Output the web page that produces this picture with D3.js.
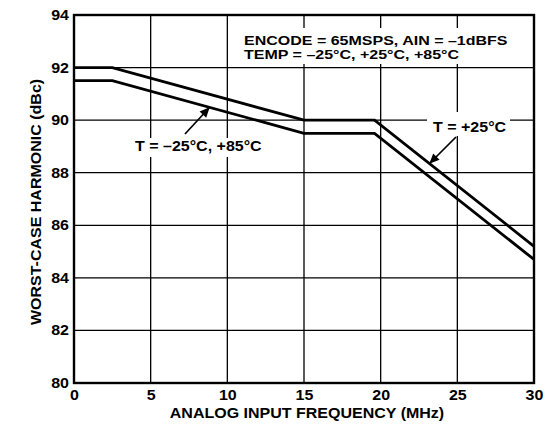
<!DOCTYPE html>
<html><head><meta charset="utf-8">
<script src="https://cdn.jsdelivr.net/npm/d3@7"></script>
<style>body{margin:0;background:#fff}svg{display:block}text{font-family:"Liberation Sans",Arial,sans-serif;font-weight:bold;fill:#000}</style>
</head><body><svg id="c" width="553" height="427"></svg>
<script>
const xTicks = [0,5,10,15,20,25,30];
const yTicks = [80,82,84,86,88,90,92,94];
const freqUpper = [0, 2.5, 15, 19.6, 30];
const valUpper = [92, 92, 90, 90, 85.2];
const freqLower = [0, 2.5, 15, 19.6, 30];
const valLower = [91.5, 91.5, 89.5, 89.5, 84.7];

const svg = d3.select("#c");
const L=74, R=534, T=15, B=383;
const FS = "14px", STRETCH = 16/14;
const x = d3.scaleLinear().domain([0,30]).range([L,R]);
const y = d3.scaleLinear().domain([80,94]).range([B,T]);

function widen(sel, k){
  const f = k || STRETCH;
  sel.each(function(){
    const w = this.getComputedTextLength();
    d3.select(this).attr("textLength", w*f).attr("lengthAdjust","spacingAndGlyphs");
  });
}

// grid
svg.append("g").selectAll("line").data(xTicks).join("line")
  .attr("x1",d=>x(d)).attr("x2",d=>x(d)).attr("y1",T).attr("y2",B)
  .attr("stroke","#000").attr("stroke-width",1.3);
svg.append("g").selectAll("line").data(yTicks).join("line")
  .attr("y1",d=>y(d)).attr("y2",d=>y(d)).attr("x1",L).attr("x2",R)
  .attr("stroke","#000").attr("stroke-width",1.3);

// tick labels
const xa = svg.append("g").attr("transform",`translate(0,${B})`)
  .call(d3.axisBottom(x).tickValues(xTicks).tickSize(0).tickPadding(7));
xa.select(".domain").remove();
xa.selectAll("text").style("font-size",FS).style("font-family",null).call(widen);
const ya = svg.append("g").attr("transform",`translate(${L},0)`)
  .call(d3.axisLeft(y).tickValues(yTicks).tickSize(0).tickPadding(5));
ya.select(".domain").remove();
ya.selectAll("text").style("font-size",FS).style("font-family",null).call(widen);

// frame
svg.append("rect").attr("x",L).attr("y",T).attr("width",R-L).attr("height",B-T)
  .attr("fill","none").attr("stroke","#000").attr("stroke-width",2.4);

// lines
const line = d3.line().x(d=>x(d[0])).y(d=>y(d[1]));
[[freqUpper,valUpper],[freqLower,valLower]].forEach(([f,v])=>{
  svg.append("path").datum(f.map((d,i)=>[d,v[i]])).attr("d",line)
    .attr("fill","none").attr("stroke","#000").attr("stroke-width",2.8);
});

// white boxes behind annotations
svg.append("rect").attr("x",240).attr("y",28).attr("width",272).attr("height",36).attr("fill","#fff");
svg.append("rect").attr("x",131).attr("y",138).attr("width",135).attr("height",19).attr("fill","#fff");
svg.append("rect").attr("x",427).attr("y",112).attr("width",83).attr("height",24).attr("fill","#fff");

function txt(s, xx, yy, anchor, size, k){
  return svg.append("text").attr("x",xx).attr("y",yy).attr("text-anchor",anchor||"start")
    .style("font-size",size||FS).text(s).call(widen, k);
}
txt("ENCODE = 65MSPS, AIN = –1dBFS", 244, 44.5, "start", "13px", 16/13);
txt("TEMP = –25°C, +25°C, +85°C", 244, 59.2, "start", "13px", 16/13);
txt("T = –25°C, +85°C", 135, 151);
txt("T = +25°C", 433, 132);

// arrows
const defs = svg.append("defs");
defs.append("marker").attr("id","ah").attr("viewBox","0 0 10 10").attr("refX",9).attr("refY",5)
  .attr("markerWidth",11).attr("markerHeight",10).attr("markerUnits","userSpaceOnUse").attr("orient","auto")
  .append("path").attr("d","M0,0.5 L10,5 L0,9.5 Z").attr("fill","#000");
svg.append("line").attr("x1",185).attr("y1",134).attr("x2",209).attr("y2",108)
  .attr("stroke","#000").attr("stroke-width",1.7).attr("marker-end","url(#ah)");
svg.append("line").attr("x1",456).attr("y1",137).attr("x2",430).attr("y2",163)
  .attr("stroke","#000").attr("stroke-width",1.7).attr("marker-end","url(#ah)");

// axis titles
txt("ANALOG INPUT FREQUENCY (MHz)", 307, 418, "middle");
svg.append("text").attr("transform",`translate(41,202) rotate(-90)`).attr("text-anchor","middle")
  .style("font-size",FS).text("WORST-CASE HARMONIC (dBc)").call(widen);
</script></body></html>
